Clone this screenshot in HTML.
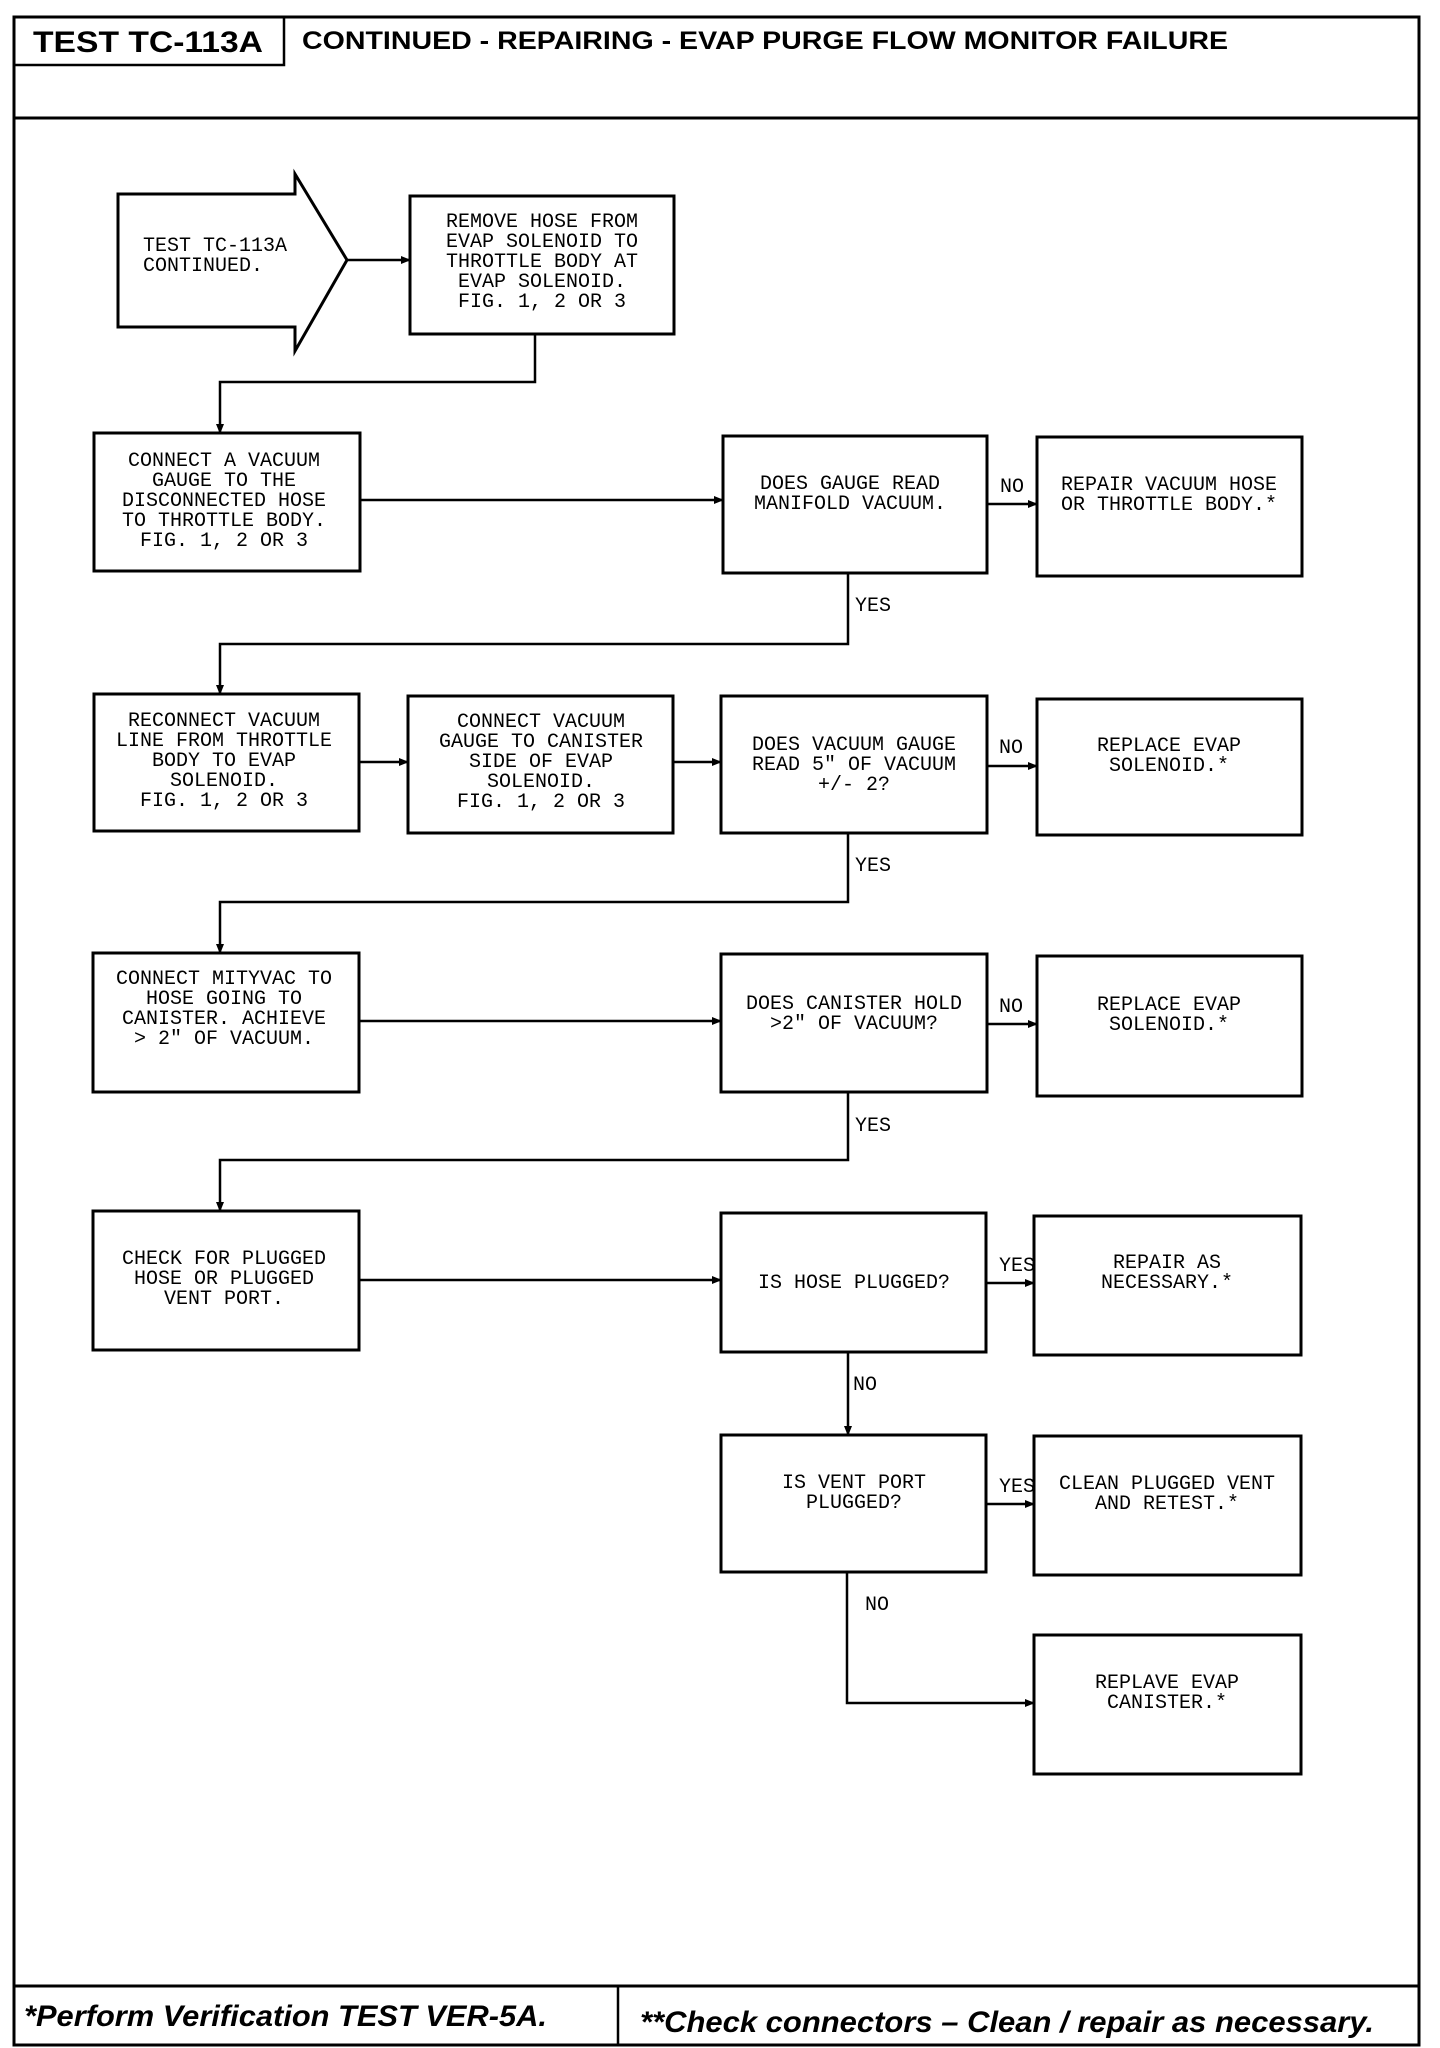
<!DOCTYPE html>
<html><head><meta charset="utf-8"><style>
html,body{margin:0;padding:0;background:#fff}
svg{display:block}
.t{font-family:"Liberation Mono",monospace;font-size:20px;fill:#000;text-anchor:middle}
.l{font-family:"Liberation Mono",monospace;font-size:20px;fill:#000}
.b{fill:#fff;stroke:#000;stroke-width:3}
.c{fill:none;stroke:#000;stroke-width:2.5}
</style></head><body>
<svg width="1440" height="2048" viewBox="0 0 1440 2048" xmlns="http://www.w3.org/2000/svg">
<defs><marker id="a" markerWidth="10" markerHeight="10" refX="9" refY="5" orient="auto" markerUnits="userSpaceOnUse"><path d="M0,1 L10,5 L0,9 z" fill="#000"/></marker></defs>
<!-- frame -->
<rect x="14" y="17" width="1405" height="2028" fill="none" stroke="#000" stroke-width="3"/>
<rect x="14" y="17" width="270" height="48" fill="none" stroke="#000" stroke-width="2.5"/>
<line x1="14" y1="118" x2="1419" y2="118" stroke="#000" stroke-width="3"/>
<line x1="14" y1="1986" x2="1419" y2="1986" stroke="#000" stroke-width="3"/>
<line x1="618" y1="1986" x2="618" y2="2045" stroke="#000" stroke-width="2.5"/>
<text x="33" y="52" font-family="Liberation Sans, sans-serif" font-weight="bold" font-size="30" textLength="230" lengthAdjust="spacingAndGlyphs">TEST TC-113A</text>
<text x="302" y="49" font-family="Liberation Sans, sans-serif" font-weight="bold" font-size="25" textLength="926" lengthAdjust="spacingAndGlyphs">CONTINUED -  REPAIRING - EVAP PURGE FLOW MONITOR FAILURE</text>
<text x="24" y="2026" font-family="Liberation Sans, sans-serif" font-weight="bold" font-style="italic" font-size="30" textLength="523" lengthAdjust="spacingAndGlyphs">*Perform Verification TEST VER-5A.</text>
<text x="640" y="2032" font-family="Liberation Sans, sans-serif" font-weight="bold" font-style="italic" font-size="30" textLength="734" lengthAdjust="spacingAndGlyphs">**Check connectors – Clean / repair as necessary.</text>

<!-- start arrow -->
<path class="b" d="M118,194 L295,194 L295,174 L347,260 L295,351 L295,327 L118,327 Z"/>
<text class="l" x="143" y="251">TEST TC-113A</text>
<text class="l" x="143" y="271">CONTINUED.</text>
<line class="c" x1="347" y1="260" x2="410" y2="260" marker-end="url(#a)"/>

<rect class="b" x="410" y="196" width="264" height="138"/>
<text class="t" x="542" y="227">REMOVE HOSE FROM</text>
<text class="t" x="542" y="247">EVAP SOLENOID TO</text>
<text class="t" x="542" y="267">THROTTLE BODY AT</text>
<text class="t" x="542" y="287">EVAP SOLENOID.</text>
<text class="t" x="542" y="307">FIG. 1, 2 OR 3</text>
<path class="c" d="M535,334 V382 H220 V433" marker-end="url(#a)"/>

<!-- row 1 -->
<rect class="b" x="94" y="433" width="266" height="138"/>
<text class="t" x="224" y="466">CONNECT A VACUUM</text>
<text class="t" x="224" y="486">GAUGE TO THE</text>
<text class="t" x="224" y="506">DISCONNECTED HOSE</text>
<text class="t" x="224" y="526">TO THROTTLE BODY.</text>
<text class="t" x="224" y="546">FIG. 1, 2 OR 3</text>
<line class="c" x1="360" y1="500" x2="723" y2="500" marker-end="url(#a)"/>
<rect class="b" x="723" y="436" width="264" height="137"/>
<text class="t" x="850" y="489">DOES GAUGE READ</text>
<text class="t" x="850" y="509">MANIFOLD VACUUM.</text>
<line class="c" x1="987" y1="504" x2="1037" y2="504" marker-end="url(#a)"/>
<text class="l" x="1000" y="492">NO</text>
<rect class="b" x="1037" y="437" width="265" height="139"/>
<text class="t" x="1169" y="490">REPAIR VACUUM HOSE</text>
<text class="t" x="1169" y="510">OR THROTTLE BODY.*</text>
<path class="c" d="M848,573 V644 H220 V694" marker-end="url(#a)"/>
<text class="l" x="855" y="611">YES</text>

<!-- row 2 -->
<rect class="b" x="94" y="694" width="265" height="137"/>
<text class="t" x="224" y="726">RECONNECT VACUUM</text>
<text class="t" x="224" y="746">LINE FROM THROTTLE</text>
<text class="t" x="224" y="766">BODY TO EVAP</text>
<text class="t" x="224" y="786">SOLENOID.</text>
<text class="t" x="224" y="806">FIG. 1, 2 OR 3</text>
<line class="c" x1="359" y1="762" x2="408" y2="762" marker-end="url(#a)"/>
<rect class="b" x="408" y="696" width="265" height="137"/>
<text class="t" x="541" y="727">CONNECT VACUUM</text>
<text class="t" x="541" y="747">GAUGE TO CANISTER</text>
<text class="t" x="541" y="767">SIDE OF EVAP</text>
<text class="t" x="541" y="787">SOLENOID.</text>
<text class="t" x="541" y="807">FIG. 1, 2 OR 3</text>
<line class="c" x1="673" y1="762" x2="721" y2="762" marker-end="url(#a)"/>
<rect class="b" x="721" y="696" width="266" height="137"/>
<text class="t" x="854" y="750">DOES VACUUM GAUGE</text>
<text class="t" x="854" y="770">READ 5" OF VACUUM</text>
<text class="t" x="854" y="790">+/- 2?</text>
<line class="c" x1="987" y1="766" x2="1037" y2="766" marker-end="url(#a)"/>
<text class="l" x="999" y="753">NO</text>
<rect class="b" x="1037" y="699" width="265" height="136"/>
<text class="t" x="1169" y="751">REPLACE EVAP</text>
<text class="t" x="1169" y="771">SOLENOID.*</text>
<path class="c" d="M848,833 V902 H220 V953" marker-end="url(#a)"/>
<text class="l" x="855" y="871">YES</text>

<!-- row 3 -->
<rect class="b" x="93" y="953" width="266" height="139"/>
<text class="t" x="224" y="984">CONNECT MITYVAC TO</text>
<text class="t" x="224" y="1004">HOSE GOING TO</text>
<text class="t" x="224" y="1024">CANISTER. ACHIEVE</text>
<text class="t" x="224" y="1044">&gt; 2" OF VACUUM.</text>
<line class="c" x1="359" y1="1021" x2="721" y2="1021" marker-end="url(#a)"/>
<rect class="b" x="721" y="954" width="266" height="138"/>
<text class="t" x="854" y="1009">DOES CANISTER HOLD</text>
<text class="t" x="854" y="1029">&gt;2" OF VACUUM?</text>
<line class="c" x1="987" y1="1024" x2="1037" y2="1024" marker-end="url(#a)"/>
<text class="l" x="999" y="1012">NO</text>
<rect class="b" x="1037" y="956" width="265" height="140"/>
<text class="t" x="1169" y="1010">REPLACE EVAP</text>
<text class="t" x="1169" y="1030">SOLENOID.*</text>
<path class="c" d="M848,1092 V1160 H220 V1211" marker-end="url(#a)"/>
<text class="l" x="855" y="1131">YES</text>

<!-- row 4 -->
<rect class="b" x="93" y="1211" width="266" height="139"/>
<text class="t" x="224" y="1264">CHECK FOR PLUGGED</text>
<text class="t" x="224" y="1284">HOSE OR PLUGGED</text>
<text class="t" x="224" y="1304">VENT PORT.</text>
<line class="c" x1="359" y1="1280" x2="721" y2="1280" marker-end="url(#a)"/>
<rect class="b" x="721" y="1213" width="265" height="139"/>
<text class="t" x="854" y="1288">IS HOSE PLUGGED?</text>
<line class="c" x1="986" y1="1283" x2="1034" y2="1283" marker-end="url(#a)"/>
<text class="l" x="999" y="1271">YES</text>
<rect class="b" x="1034" y="1216" width="267" height="139"/>
<text class="t" x="1167" y="1268">REPAIR AS</text>
<text class="t" x="1167" y="1288">NECESSARY.*</text>
<line class="c" x1="848" y1="1352" x2="848" y2="1435" marker-end="url(#a)"/>
<text class="l" x="853" y="1390">NO</text>

<!-- row 5 -->
<rect class="b" x="721" y="1435" width="265" height="137"/>
<text class="t" x="854" y="1488">IS VENT PORT</text>
<text class="t" x="854" y="1508">PLUGGED?</text>
<line class="c" x1="986" y1="1504" x2="1034" y2="1504" marker-end="url(#a)"/>
<text class="l" x="999" y="1492">YES</text>
<rect class="b" x="1034" y="1436" width="267" height="139"/>
<text class="t" x="1167" y="1489">CLEAN PLUGGED VENT</text>
<text class="t" x="1167" y="1509">AND RETEST.*</text>
<path class="c" d="M847,1572 V1703 H1034" marker-end="url(#a)"/>
<text class="l" x="865" y="1610">NO</text>
<rect class="b" x="1034" y="1635" width="267" height="139"/>
<text class="t" x="1167" y="1688">REPLAVE EVAP</text>
<text class="t" x="1167" y="1708">CANISTER.*</text>
</svg>
</body></html>
